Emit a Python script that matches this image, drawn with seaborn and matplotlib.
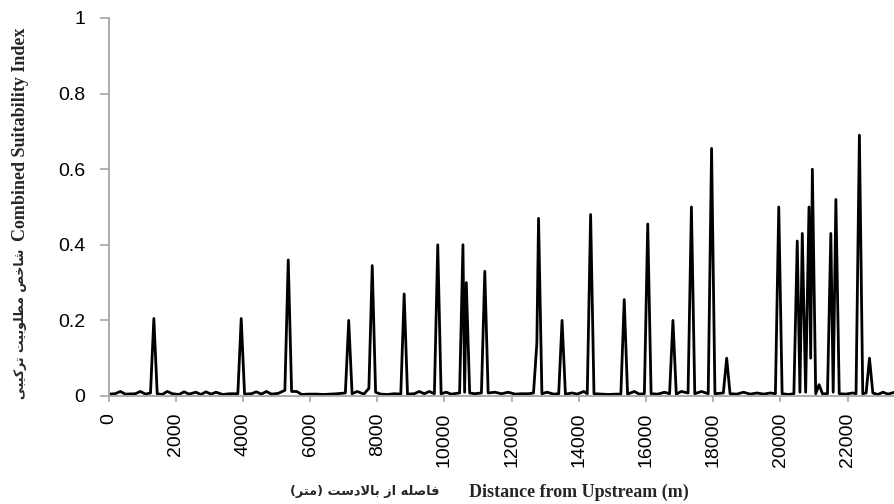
import pandas as pd
import seaborn as sns
import matplotlib
matplotlib.use("Agg")
import matplotlib.pyplot as plt

# distance from upstream (m) and combined suitability index
distance = [
    0, 200, 350, 500, 800, 950, 1100, 1250, 1350, 1450, 1600, 1750, 1900,
    2100, 2250, 2400, 2600, 2750, 2900, 3050, 3200, 3400, 3600, 3850, 3950,
    4050, 4250, 4400, 4550, 4700, 4850, 5050, 5250, 5350, 5450, 5600, 5750,
    5950, 6200, 6400, 6600, 6800, 7050, 7150, 7250, 7400, 7600, 7750, 7850,
    7950, 8100, 8300, 8500, 8700, 8800, 8900, 9100, 9250, 9400, 9550, 9700,
    9800, 9900, 10050, 10200, 10450, 10550, 10600, 10650, 10750, 10900,
    11100, 11200, 11300, 11500, 11700, 11900, 12100, 12300, 12500, 12650,
    12750, 12800, 12900, 13050, 13250, 13400, 13500, 13600, 13800, 13950,
    14150, 14250, 14350, 14450, 14650, 14900, 15100, 15250, 15350, 15450,
    15650, 15800, 15950, 16050, 16150, 16350, 16550, 16700, 16800, 16900,
    17050, 17250, 17350, 17450, 17650, 17850, 17950, 18050, 18300, 18400,
    18500, 18700, 18900, 19100, 19300, 19500, 19700, 19850, 19950, 20050,
    20250, 20400, 20500, 20580, 20650, 20750, 20850, 20900, 20950, 21050,
    21150, 21250, 21400, 21500, 21570, 21650, 21750, 21950, 22150, 22250,
    22350, 22450, 22550, 22650, 22750, 22900, 23050, 23200, 23400, 23600,
]
csi = [
    0.005, 0.006, 0.012, 0.005, 0.006, 0.012, 0.005, 0.008, 0.205, 0.006, 0.004, 0.012, 0.006,
    0.004, 0.011, 0.005, 0.010, 0.004, 0.011, 0.005, 0.010, 0.004, 0.006, 0.006, 0.205,
    0.005, 0.006, 0.011, 0.005, 0.012, 0.005, 0.007, 0.015, 0.360, 0.012, 0.012, 0.004,
    0.005, 0.005, 0.004, 0.005, 0.006, 0.008, 0.200, 0.006, 0.012, 0.005, 0.020, 0.345,
    0.010, 0.005, 0.004, 0.006, 0.005, 0.270, 0.005, 0.006, 0.012, 0.006, 0.012, 0.006,
    0.400, 0.006, 0.010, 0.005, 0.008, 0.400, 0.010, 0.300, 0.008, 0.006,
    0.008, 0.330, 0.008, 0.010, 0.006, 0.010, 0.005, 0.006, 0.006, 0.008,
    0.140, 0.470, 0.006, 0.010, 0.005, 0.006, 0.200, 0.005, 0.008, 0.005,
    0.012, 0.006, 0.480, 0.006, 0.005, 0.004, 0.005, 0.005, 0.255, 0.005,
    0.012, 0.005, 0.006, 0.455, 0.006, 0.005, 0.010, 0.006, 0.200, 0.005,
    0.012, 0.008, 0.500, 0.006, 0.012, 0.006, 0.655, 0.006, 0.008, 0.100,
    0.006, 0.005, 0.010, 0.005, 0.008, 0.005, 0.008, 0.006, 0.500, 0.006,
    0.004, 0.006, 0.410, 0.010, 0.430, 0.010, 0.500, 0.100, 0.600, 0.006,
    0.030, 0.006, 0.006, 0.430, 0.010, 0.520, 0.006, 0.005, 0.008, 0.006,
    0.690, 0.006, 0.008, 0.100, 0.008, 0.004, 0.010, 0.005, 0.010, 0.005,
]

x_ticks = list(range(0, 22001, 2000))
y_ticks = [0, 0.2, 0.4, 0.6, 0.8, 1]
y_tick_labels = ["0", "0.2", "0.4", "0.6", "0.8", "1"]

# persian labels, written in visual order with joined letter forms
# (matplotlib does no arabic shaping itself)
fa_xlabel = "(\uFEAE\uFE98\uFEE3) \uFE96\uFEB3\uFEA9\uFEFB\uFE8E\uFE91 \uFEAF\uFE8D \uFEEA\uFEE0\uFEBB\uFE8E\uFED3"
fa_ylabel = ("\uFBFD\uFE92\uFBFF\uFB90\uFEAE\uFE97 "
             "\uFE96\uFBFF\uFE91\uFEEE\uFEE0\uFEC4\uFEE3 "
             "\uFEBA\uFEA7\uFE8E\uFEB7")
en_xlabel = "Distance from Upstream (m)"
en_ylabel = "Combined Suitability Index"

df = pd.DataFrame({"distance": distance, "csi": csi})

sns.set_theme(style="ticks")
plt.rcParams["font.family"] = ["Liberation Sans", "DejaVu Sans"]

fig = plt.figure(figsize=(8.94, 5.04), dpi=100)
ax = fig.add_axes([108.5 / 894, 1 - 396 / 504, 1 - 108.5 / 894, 378 / 504])

sns.lineplot(data=df, x="distance", y="csi", ax=ax, color="black", linewidth=2.0)

ax.set_xlim(0, 23380)
ax.set_ylim(0, 1)
ax.set_xticks(x_ticks)
ax.set_xticklabels([str(t) for t in x_ticks], rotation=90, fontsize=14)
ax.set_yticks(y_ticks)
ax.set_yticklabels(y_tick_labels, fontsize=14)
ax.set_xlabel("")
ax.set_ylabel("")

for side in ["top", "right"]:
    ax.spines[side].set_visible(False)
for side in ["left", "bottom"]:
    ax.spines[side].set_color("#A6A6A6")
    ax.spines[side].set_linewidth(1.3)
ax.tick_params(axis="y", length=6.5, width=1.2, color="#A6A6A6", pad=10, labelcolor="black")
ax.tick_params(axis="x", length=4, width=1.2, color="#A6A6A6", pad=8, labelcolor="black")

# axis titles: english bold serif + persian part
fig.text(579 / 894, 1 - 492 / 504, en_xlabel, ha="center", va="center",
         fontsize=13, fontweight="bold", family="Liberation Serif")
fig.text(365 / 894, 1 - 492 / 504, fa_xlabel, ha="center", va="center",
         fontsize=9.3, fontweight="bold", family="DejaVu Sans")
fig.text(21 / 894, 1 - 134 / 504, en_ylabel, ha="center", va="center", rotation=90,
         fontsize=13, fontweight="bold", family="Liberation Serif")
fig.text(21 / 894, 1 - 324 / 504, fa_ylabel, ha="center", va="center", rotation=90,
         fontsize=9.0, fontweight="bold", family="DejaVu Sans")

fig.savefig("out.png", dpi=100)
